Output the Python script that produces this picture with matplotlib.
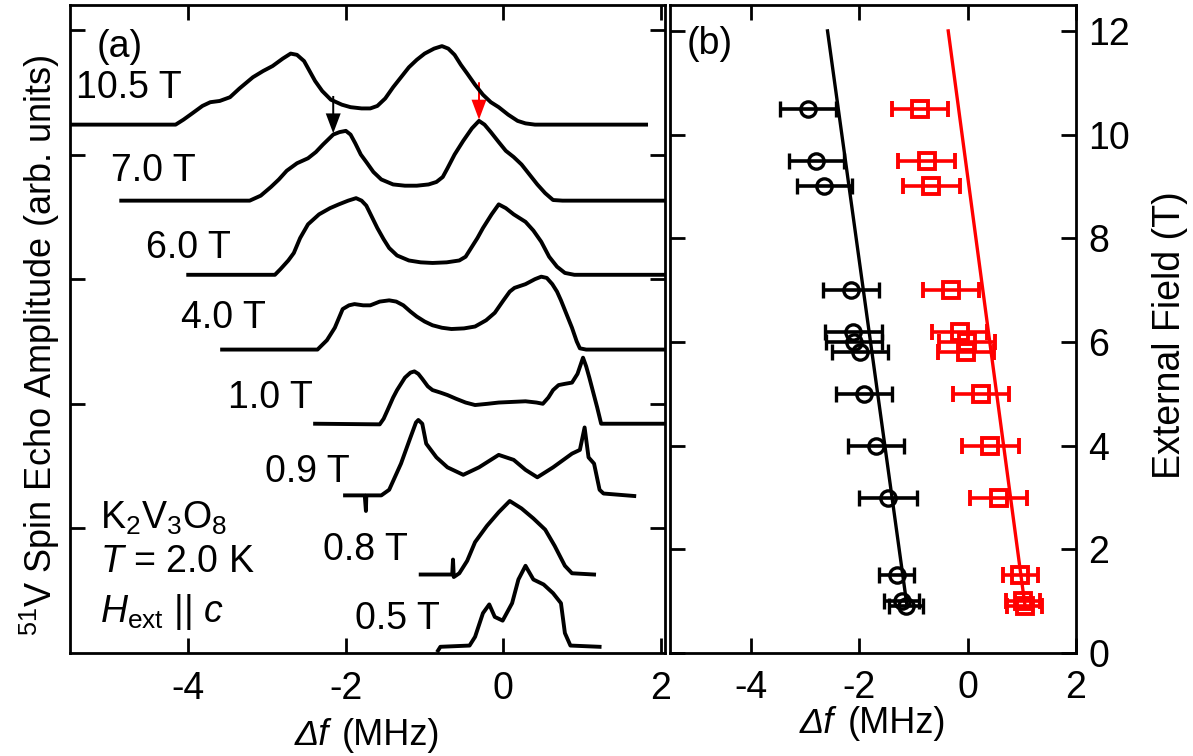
import matplotlib
matplotlib.use("Agg")
import matplotlib.pyplot as plt

plt.rcParams["font.family"] = ["Liberation Sans", "DejaVu Sans"]
plt.rcParams["mathtext.fontset"] = "custom"
plt.rcParams["mathtext.rm"] = "Liberation Sans"
plt.rcParams["mathtext.it"] = "Liberation Sans:italic"
plt.rcParams["axes.linewidth"] = 2.0
plt.rcParams["axes.unicode_minus"] = False

# ---- panel (a): spectra, offset vertically
s105_x = [-5.47, -4.16, -4.06, -3.95, -3.82, -3.72, -3.60, -3.47, -3.35, -3.18, -3.05, -2.93, -2.80,
          -2.70, -2.62, -2.53, -2.46, -2.39, -2.30, -2.19, -2.05, -1.94, -1.80, -1.69, -1.60, -1.50,
          -1.40, -1.30, -1.20, -1.10, -1.00, -0.88, -0.78, -0.70, -0.62, -0.54, -0.46, -0.36, -0.26,
          -0.16, -0.06, 0.06, 0.18, 0.28, 0.40, 1.81]
s105_y = [4.24, 4.24, 4.28, 4.33, 4.39, 4.42, 4.43, 4.46, 4.53, 4.62, 4.67, 4.71, 4.77,
          4.81, 4.80, 4.75, 4.67, 4.59, 4.51, 4.44, 4.40, 4.38, 4.37, 4.37, 4.39, 4.45,
          4.54, 4.62, 4.70, 4.76, 4.81, 4.85, 4.87, 4.85, 4.80, 4.72, 4.65, 4.56, 4.48,
          4.42, 4.38, 4.32, 4.27, 4.25, 4.24, 4.24]

s70_x = [-4.85, -3.22, -3.08, -2.95, -2.85, -2.75, -2.62, -2.48, -2.38, -2.29, -2.16, -2.08, -2.00,
         -1.94, -1.88, -1.81, -1.74, -1.65, -1.55, -1.40, -1.25, -1.10, -0.95, -0.85, -0.77, -0.71,
         -0.62, -0.51, -0.40, -0.31, -0.24, -0.16, -0.06, 0.03, 0.13, 0.23, 0.33, 0.43, 0.53, 0.63,
         0.75, 2.10]
s70_y = [3.63, 3.63, 3.67, 3.74, 3.80, 3.87, 3.93, 3.97, 4.02, 4.08, 4.16, 4.18, 4.19,
         4.16, 4.09, 4.00, 3.94, 3.86, 3.80, 3.76, 3.75, 3.75, 3.76, 3.78, 3.82, 3.89,
         4.00, 4.11, 4.21, 4.27, 4.24, 4.18, 4.10, 4.03, 3.98, 3.92, 3.84, 3.76, 3.69, 3.635,
         3.63, 3.63]

s60_x = [-4.00, -2.90, -2.83, -2.73, -2.66, -2.58, -2.48, -2.34, -2.20, -2.09, -1.97, -1.87, -1.80,
         -1.74, -1.67, -1.60, -1.52, -1.45, -1.35, -1.20, -1.05, -0.90, -0.72, -0.56, -0.48, -0.41,
         -0.33, -0.26, -0.15, -0.06, 0.03, 0.13, 0.28, 0.38, 0.48, 0.58, 0.68, 0.78, 0.90, 2.10]
s60_y = [3.035, 3.035, 3.08, 3.15, 3.21, 3.33, 3.44, 3.52, 3.57, 3.60, 3.63, 3.65, 3.63,
         3.59, 3.50, 3.41, 3.32, 3.25, 3.19, 3.15, 3.135, 3.13, 3.135, 3.15, 3.18, 3.25,
         3.33, 3.41, 3.52, 3.60, 3.57, 3.52, 3.46, 3.39, 3.30, 3.18, 3.10, 3.05, 3.035, 3.035]

s40_x = [-3.57, -2.36, -2.24, -2.14, -2.04, -1.96, -1.89, -1.78, -1.69, -1.57, -1.45, -1.36, -1.27,
         -1.18, -1.10, -1.00, -0.90, -0.78, -0.66, -0.50, -0.36, -0.22, -0.11, 0.00, 0.08, 0.14,
         0.28, 0.40, 0.48, 0.55, 0.62, 0.68, 0.73, 0.80, 0.87, 0.93, 0.97, 1.05, 2.10]
s40_y = [2.435, 2.435, 2.51, 2.61, 2.76, 2.79, 2.80, 2.79, 2.79, 2.82, 2.83, 2.82, 2.79,
         2.74, 2.70, 2.66, 2.63, 2.61, 2.60, 2.605, 2.62, 2.67, 2.73, 2.83, 2.90, 2.93,
         2.96, 3.00, 3.02, 3.01, 2.96, 2.90, 2.83, 2.72, 2.61, 2.50, 2.445, 2.435, 2.435]

s10_x = [-2.39, -1.57, -1.52, -1.47, -1.40, -1.35, -1.25, -1.18, -1.13, -1.08, -1.03, -0.96, -0.90,
         -0.80, -0.71, -0.60, -0.48, -0.36, -0.20, -0.06, 0.28, 0.42, 0.50, 0.57, 0.63, 0.70,
         0.78, 0.87, 0.94, 1.01, 1.05, 1.09, 1.14, 1.19, 1.24, 2.10]
s10_y = [1.84, 1.835, 1.88, 1.95, 2.05, 2.11, 2.21, 2.25, 2.26, 2.24, 2.20, 2.14, 2.11,
         2.09, 2.07, 2.04, 2.01, 1.99, 2.00, 2.01, 2.02, 2.01, 2.00, 2.05, 2.11, 2.15,
         2.16, 2.17, 2.24, 2.37, 2.30, 2.21, 2.09, 1.97, 1.84, 1.84]

s09_x = [-2.01, -1.76, -1.745, -1.74, -1.55, -1.45, -1.30, -1.18, -1.11, -1.08, -1.03, -0.98, -0.85,
         -0.71, -0.51, -0.31, -0.06, 0.13, 0.28, 0.43, 0.63, 0.87, 0.97, 1.03, 1.08, 1.15, 1.22, 1.27, 1.66]
s09_y = [1.265, 1.265, 1.14, 1.265, 1.265, 1.31, 1.52, 1.73, 1.85, 1.87, 1.84, 1.68, 1.57,
         1.49, 1.43, 1.49, 1.59, 1.55, 1.47, 1.41, 1.49, 1.60, 1.63, 1.81, 1.57, 1.52, 1.31, 1.28, 1.26]

s08_x = [-1.05, -0.65, -0.64, -0.63, -0.56, -0.46, -0.36, -0.21, -0.06, 0.08, 0.23, 0.38, 0.53,
         0.65, 0.78, 0.87, 1.15]
s08_y = [0.63, 0.63, 0.75, 0.61, 0.64, 0.74, 0.89, 1.02, 1.13, 1.22, 1.16, 1.08, 0.99,
         0.86, 0.70, 0.64, 0.63]

s05_x = [-0.83, -0.80, -0.43, -0.36, -0.26, -0.18, -0.11, -0.01, 0.11, 0.19, 0.28, 0.38, 0.51,
         0.63, 0.73, 0.78, 0.85, 1.22]
s05_y = [0.02, 0.05, 0.06, 0.13, 0.32, 0.39, 0.29, 0.26, 0.40, 0.59, 0.70, 0.59, 0.55,
         0.48, 0.40, 0.16, 0.06, 0.05]

field_labels = ["10.5 T", "7.0 T", "6.0 T", "4.0 T", "1.0 T", "0.9 T", "0.8 T", "0.5 T"]
label_x = [-5.43, -4.98, -4.53, -4.09, -3.49, -3.02, -2.29, -1.89]
label_y = [4.53, 3.87, 3.25, 2.69, 2.05, 1.45, 0.83, 0.27]

# ---- panel (b): peak positions vs field
low_field = [10.5, 9.5, 9.0, 7.0, 6.2, 6.0, 5.8, 5.0, 4.0, 3.0, 1.5, 1.0, 0.9]
low_pos = [-2.95, -2.80, -2.65, -2.16, -2.11, -2.10, -1.99, -1.91, -1.70, -1.47, -1.31, -1.22, -1.14]
low_err = [0.52, 0.51, 0.51, 0.52, 0.52, 0.52, 0.52, 0.52, 0.52, 0.53, 0.32, 0.32, 0.32]

high_field = [10.5, 9.5, 9.0, 7.0, 6.2, 6.0, 5.8, 5.0, 4.0, 3.0, 1.5, 1.0, 0.9]
high_pos = [-0.88, -0.76, -0.67, -0.31, -0.15, -0.01, -0.03, 0.25, 0.42, 0.57, 0.97, 1.02, 1.05]
high_err = [0.52, 0.52, 0.52, 0.52, 0.51, 0.52, 0.52, 0.52, 0.52, 0.52, 0.32, 0.32, 0.32]

fit_field = [0.9, 12.0]
low_fit = [-1.12, -2.59]
high_fit = [1.06, -0.36]

fig = plt.figure(figsize=(11.93, 7.56), dpi=100)
ax1 = fig.add_axes([0.0587, 0.1362, 0.4987, 0.8572])
ax2 = fig.add_axes([0.5616, 0.1362, 0.3403, 0.8572])

FS = 27
spectra = [(s105_x, s105_y), (s70_x, s70_y), (s60_x, s60_y), (s40_x, s40_y),
           (s10_x, s10_y), (s09_x, s09_y), (s08_x, s08_y), (s05_x, s05_y)]
for (sx, sy) in spectra:
    ax1.plot(sx, sy, color="k", lw=2.8, solid_joinstyle="round")
for lab, lx, ly in zip(field_labels, label_x, label_y):
    ax1.text(lx, ly, lab, fontsize=FS, va="center", ha="left")

# arrows marking the two peaks of the 7.0 T line
ax1.arrow(-2.16, 4.47, 0, -0.30, width=0.025, head_width=0.19, head_length=0.16,
          length_includes_head=True, color="k", lw=0)
ax1.arrow(-0.31, 4.58, 0, -0.30, width=0.025, head_width=0.19, head_length=0.16,
          length_includes_head=True, color="red", lw=0)

ax1.text(-5.16, 4.86, "(a)", fontsize=FS, va="center")
ax1.text(-5.12, 1.08, r"K$_2$V$_3$O$_8$", fontsize=FS, va="center")
ax1.text(-5.12, 0.73, r"$T$ = 2.0 K", fontsize=FS, va="center")
ax1.text(-5.12, 0.33, r"$H_{\rm ext}$ || $c$", fontsize=FS, va="center")

ax1.set_xlim(-5.5, 2.05)
ax1.set_ylim(0, 5.2)
ax1.set_xticks([-4, -2, 0, 2])
ax1.set_yticks([1, 2, 3, 4, 5])
ax1.set_yticklabels([])
ax1.tick_params(direction="in", length=11, width=2, top=True, right=True,
                labelsize=FS, pad=13)
ax1.set_ylabel(r"$^{51}$V Spin Echo Amplitude (arb. units)", fontsize=26)
ax1.yaxis.set_label_coords(-0.013, 0.475)

# panel (b)
ax2.plot(low_fit, fit_field, color="k", lw=2.4)
ax2.plot(high_fit, fit_field, color="red", lw=2.4)
ax2.errorbar(low_pos, low_field, xerr=low_err, fmt="o", ms=11, mfc="none", mec="k", mew=2.4,
             ecolor="k", elinewidth=2.6, capsize=6, capthick=2.6)
ax2.errorbar(high_pos, high_field, xerr=high_err, fmt="s", ms=11, mfc="none", mec="red", mew=2.8,
             ecolor="red", elinewidth=2.6, capsize=6, capthick=2.6)
ax2.text(-5.2, 11.75, "(b)", fontsize=FS, va="center")

ax2.set_xlim(-5.5, 2)
ax2.set_ylim(0, 12.5)
ax2.set_xticks([-4, -2, 0, 2])
ax2.set_yticks([0, 2, 4, 6, 8, 10, 12])
ax2.yaxis.tick_right()
ax2.yaxis.set_label_position("right")
ax2.tick_params(direction="in", length=11, width=2, top=True, left=True, right=True,
                labelsize=FS, pad=12)
ax2.tick_params(axis="y", pad=9)
ax2.set_ylabel("External Field (T)", fontsize=FS)
ax2.yaxis.set_label_coords(1.187, 0.49)

# x labels: italic "Δf" followed by upright "(MHz)"
for ax, ylab in [(ax1, -0.127), (ax2, -0.108)]:
    w = 146.0 / (ax.get_position().width * fig.get_figwidth() * fig.dpi)
    ax.text(0.5 - w / 2, ylab, "Δf", style="italic", fontsize=26, transform=ax.transAxes,
            ha="left", va="center")
    ax.text(0.5 + w / 2, ylab, "(MHz)", fontsize=26, transform=ax.transAxes,
            ha="right", va="center")

fig.savefig("out.png", dpi=100)
